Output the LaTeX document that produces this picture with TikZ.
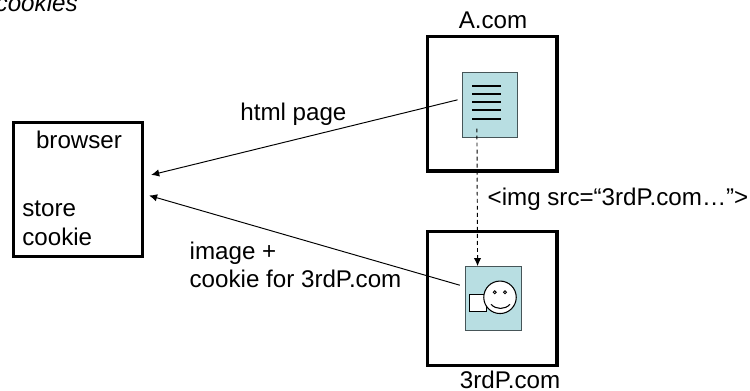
\documentclass[tikz,border=0pt]{standalone}
\usepackage{fontspec}
\setmainfont{Liberation Sans}
\usetikzlibrary{arrows.meta}
\definecolor{pageColor}{RGB}{184, 222, 226}
\definecolor{pageEdge}{RGB}{70, 85, 88}
\tikzset{
    label text/.style={inner sep=0pt, anchor=base west, font=\fontsize{13.75}{16}\selectfont},
    frame box/.style={rectangle, draw, line width=1.8pt, minimum width=2.59cm, minimum height=2.69cm, inner sep=0pt},
    page box/.style={rectangle, draw=pageEdge, line width=0.6pt, fill=pageColor, inner sep=0pt},
    flow/.style={-{Latex[length=4.6pt,width=4.2pt]}, line width=0.55pt}
}

\begin{document}
\begin{tikzpicture}[x=0.02cm, y=-0.02cm]
    \useasboundingbox (0,0) rectangle (750,391);

    % Servers and browser
    \node[frame box] (acom) at (492.3,103.8) {};
    \node[frame box] (thirdp) at (492.3,298.4) {};
    \node[frame box] (browser) at (78,189.5) {};
    \node[page box, minimum width=1.106cm, minimum height=1.3cm] (htmlpage) at (490.3,105.2) {};
    \node[page box, minimum width=1.112cm, minimum height=1.286cm] (imagepage) at (493.5,298.8) {};

    % Page text lines
    \foreach \y in {86,94.3,102.3,110.3,118.7}
        \draw[line width=1.2pt] (472,\y) -- (501,\y);

    % Image with smiley
    \node[rectangle, draw, fill=white, line width=0.6pt, minimum width=0.34cm, minimum height=0.34cm, inner sep=0pt] (imgbox) at (478,302.8) {};
    \node[circle, draw, fill=white, line width=0.6pt, minimum size=0.65cm, inner sep=0pt] (face) at (500,297.3) {};
    \draw[line width=0.5pt] (494.7,292.3) circle[radius=0.03cm];
    \draw[line width=0.5pt] (505,292.3) circle[radius=0.03cm];
    \draw[line width=0.6pt] (491,304.3) .. controls (496,309.8) and (505,309.8) .. (510,304.3);

    % Labels
    \node[label text, font=\fontsize{13.75}{16}\selectfont\itshape, anchor=base east] (title) at (78,11.7) {cookies};
    \node[label text, anchor=base] (acomlabel) at (493,28.5) {A.com};
    \node[label text] (thirdplabel) at (459.5,388) {3rdP.com};
    \node[label text, anchor=base] (browserlabel) at (79,148.3) {browser};
    \node[label text] (storelabel) at (22,216.7) {store};
    \node[label text] (cookielabel) at (22,246) {cookie};
    \node[label text] (htmllabel) at (240,121) {html page};
    \node[label text] (imglabel) at (487.3,206) {<img src=“3rdP.com…”>};
    \node[label text] (imagelabel) at (189.3,260) {image +};
    \node[label text] (setlabel) at (189.3,287.3) {cookie for 3rdP.com};

    % Requests and responses
    \draw[flow, shorten <=2.7pt, shorten >=4pt] (htmlpage.167) -- (browser.11);
    \draw[flow, shorten <=3.2pt, shorten >=2.8pt] (imagepage.157.7) -- (browser.-4.4);
    \draw[flow, dash pattern=on 2.2pt off 1.8pt, shorten <=-5.5pt] (htmlpage.248.8) -- (imagepage.116.2);
\end{tikzpicture}
\end{document}
